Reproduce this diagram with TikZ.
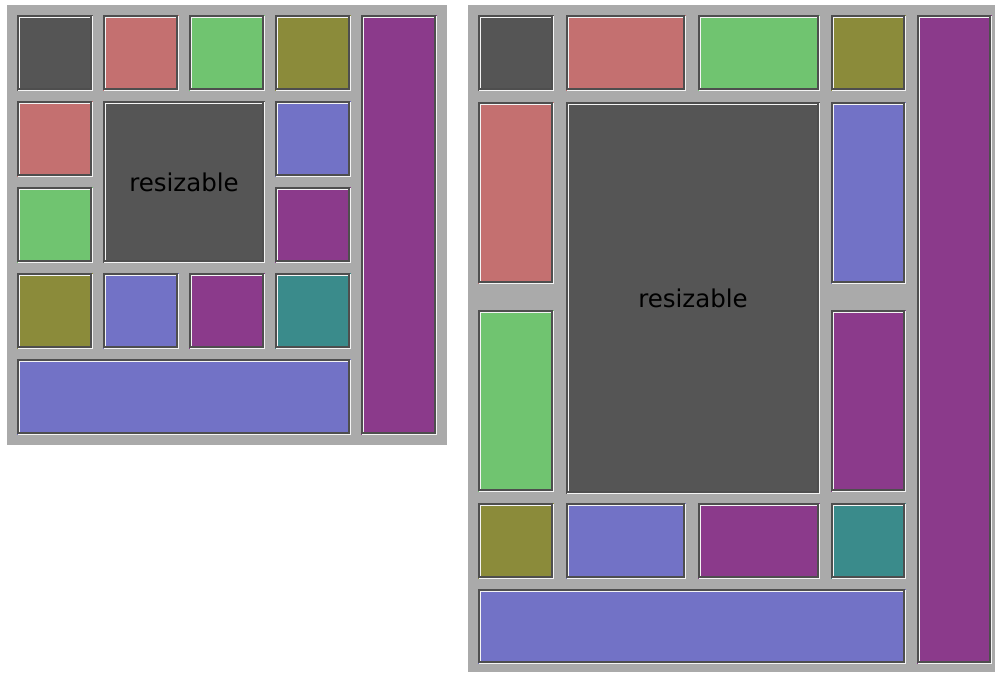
\documentclass[tikz,border=0pt]{standalone}
\usepackage{fontspec}
\newfontfamily\dejavu{DejaVu Sans}
\definecolor{panelbg}{HTML}{AAAAAA}
\definecolor{cdark}{HTML}{555555}
\definecolor{cpink}{HTML}{C47070}
\definecolor{cgreen}{HTML}{70C470}
\definecolor{colive}{HTML}{8B8B3A}
\definecolor{cblue}{HTML}{7272C6}
\definecolor{cpurple}{HTML}{8B3A8B}
\definecolor{cteal}{HTML}{3A8B8B}
\definecolor{edgedk}{HTML}{4E4E4E}
\definecolor{edgelt}{HTML}{F4F4F4}
\tikzset{
  shade dark/.style={draw=edgedk, line width=1.5pt},
  shade light/.style={draw=edgelt, line width=1.5pt},
  label text/.style={font=\dejavu\fontsize{24.5}{29}\selectfont, text=black, inner sep=0pt}
}
% groove-bordered box: name, x1, y1, x2, y2, colour (pixel coordinates, y downwards)
\newcommand\gbox[6]{%
  \fill[#6] (#2,#3) rectangle (#4,#5);
  \coordinate (#1) at ({(#2+#4)/2},{(#3+#5)/2});
  \draw[shade dark]  (#2+0.75,#5-0.75) -- (#2+0.75,#3+0.75) -- (#4-0.75,#3+0.75);
  \draw[shade light] (#2+0.75,#5-0.75) -- (#4-0.75,#5-0.75) -- (#4-0.75,#3+0.75);
  \draw[shade light] (#2+2.25,#5-2.25) -- (#2+2.25,#3+2.25) -- (#4-2.25,#3+2.25);
  \draw[shade dark]  (#2+2.25,#5-2.25) -- (#4-2.25,#5-2.25) -- (#4-2.25,#3+2.25);
}
\begin{document}
\begin{tikzpicture}[x=1pt,y=-1pt]
\useasboundingbox (0,0) rectangle (995,672);
\fill[white] (0,0) rectangle (995,672);
% ---------------- left panel ----------------
\fill[panelbg] (7,5) rectangle (447,445);
\gbox{la1}{17}{15}{93}{91}{cdark}
\gbox{la2}{103}{15}{179}{91}{cpink}
\gbox{la3}{189}{15}{265}{91}{cgreen}
\gbox{la4}{275}{15}{351}{91}{colive}
\gbox{la5}{361}{15}{437}{435}{cpurple}
\gbox{lb1}{17}{101}{93}{177}{cpink}
\gbox{lres}{103}{101}{265}{263}{cdark}
\gbox{lb4}{275}{101}{351}{177}{cblue}
\gbox{lc1}{17}{187}{93}{263}{cgreen}
\gbox{lc4}{275}{187}{351}{263}{cpurple}
\gbox{ld1}{17}{273}{93}{349}{colive}
\gbox{ld2}{103}{273}{179}{349}{cblue}
\gbox{ld3}{189}{273}{265}{349}{cpurple}
\gbox{ld4}{275}{273}{351}{349}{cteal}
\gbox{le1}{17}{359}{351}{435}{cblue}
\node[label text] (lreslabel) at (lres) {resizable};
% ---------------- right panel ----------------
\fill[panelbg] (468,5) rectangle (995,672);
\gbox{ra1}{478}{15}{554}{91}{cdark}
\gbox{ra2}{566}{15}{686}{91}{cpink}
\gbox{ra3}{698}{15}{820}{91}{cgreen}
\gbox{ra4}{831}{15}{906}{91}{colive}
\gbox{ra5}{917}{15}{992}{664}{cpurple}
\gbox{rb1}{478}{102}{554}{284}{cpink}
\gbox{rres}{566}{102}{820}{494}{cdark}
\gbox{rb4}{831}{102}{906}{284}{cblue}
\gbox{rc1}{478}{310}{554}{492}{cgreen}
\gbox{rc4}{831}{310}{906}{492}{cpurple}
\gbox{rd1}{478}{503}{554}{579}{colive}
\gbox{rd2}{566}{503}{686}{579}{cblue}
\gbox{rd3}{698}{503}{820}{579}{cpurple}
\gbox{rd4}{831}{503}{906}{579}{cteal}
\gbox{re1}{478}{589}{906}{664}{cblue}
\node[label text] (rreslabel) at (rres) {resizable};
\end{tikzpicture}
\end{document}
